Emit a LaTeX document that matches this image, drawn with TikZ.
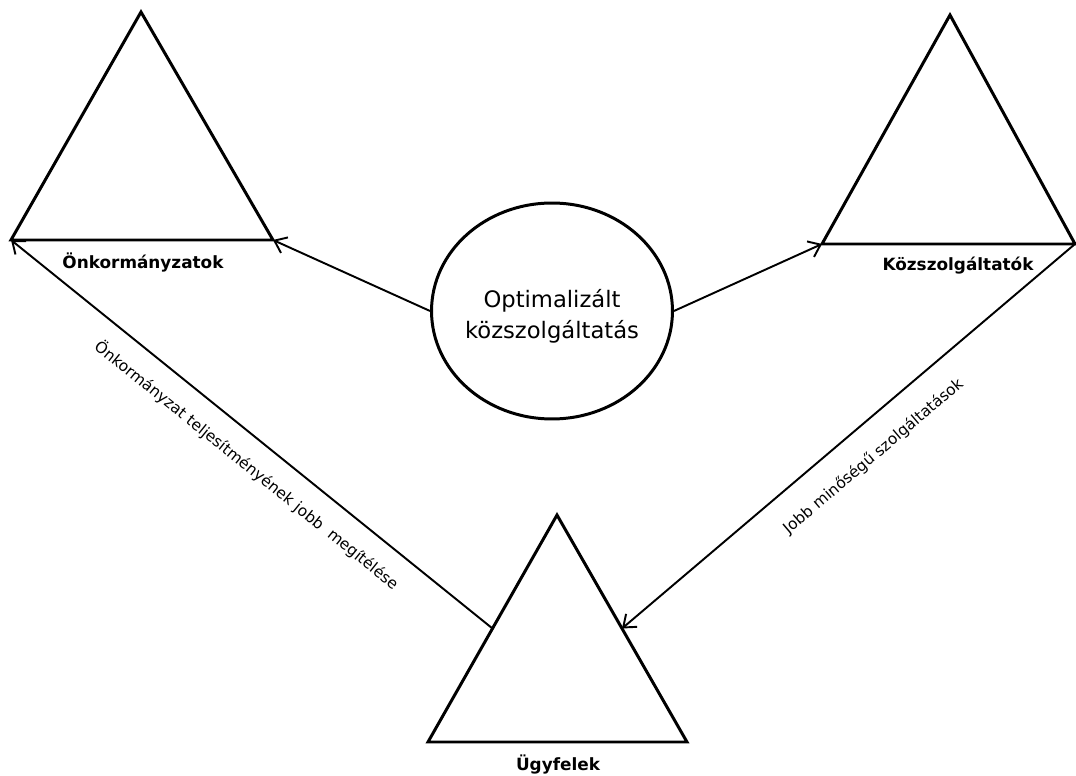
\documentclass[tikz,border=0pt]{standalone}
\usepackage{fontspec}
\setmainfont{DejaVu Sans}
\usetikzlibrary{arrows.meta,shapes.geometric,calc}

\begin{document}
\begin{tikzpicture}[x=.02cm,y=-.02cm,
  tri/.style={line width=1.7pt,line join=miter},
  edge/.style={line width=1.1pt,-{Straight Barb[length=2.2mm,width=3.4mm]}},
  lbl/.style={font=\fontsize{9.6}{11}\selectfont\bfseries},
  note/.style={font=\fontsize{8.8}{10}\selectfont,sloped,inner sep=0pt}]
\path[use as bounding box] (0,0) rectangle (1076,776);
\foreach \name/\ax/\ay/\bl/\br/\by in {onk/141/12/11/273/240,kozsz/950/15/822/1075/244,ugy/557/515/428/687/742}{
  \coordinate (\name T) at (\ax,\ay);
  \coordinate (\name L) at (\bl,\by);
  \coordinate (\name R) at (\br,\by);
  \draw[tri] (\name T) -- (\name L) -- (\name R) -- cycle;
}
\node[lbl] (onklbl) at (143,263) {Önkormányzatok};
\node[lbl] (kozszlbl) at (958,266) {Közszolgáltatók};
\node[lbl] (ugylbl) at (558,765) {Ügyfelek};
\node[draw,ellipse,line width=1.7pt,minimum width=4.82cm,minimum height=4.32cm,inner sep=0pt,
  label={[align=center,yshift=-3pt,font=\fontsize{12.9}{18}\selectfont]center:Optimalizált\\közszolgáltatás}]
  (opt) at (552,311) {};
\coordinate (ugyIn) at ($(ugyL)!.5!(ugyT)$);
\coordinate (ugyOut) at ($(ugyR)!.5!(ugyT)$);
\draw[edge] (opt.west) -- (onkR);
\draw[edge] (opt.east) -- (kozszL);
\draw[edge] (ugyIn) -- node[note,pos=.475,below=10pt] {Önkormányzat teljesítményének jobb~ megítélése} (onkL);
\draw[edge] (kozszR) -- node[note,pos=.49,below=13pt] {Jobb minőségű szolgáltatások} (ugyOut);
\end{tikzpicture}
\end{document}
